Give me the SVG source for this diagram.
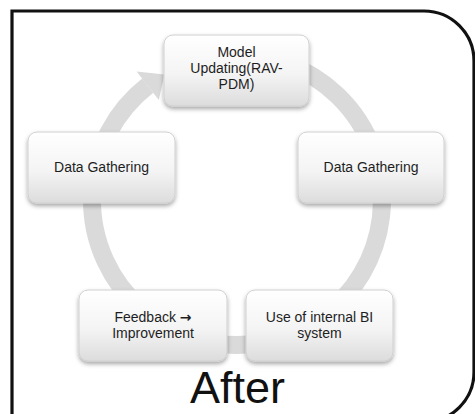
<svg xmlns="http://www.w3.org/2000/svg" width="475" height="414" viewBox="0 0 475 414">
<defs>
<linearGradient id="boxg" x1="0" y1="0" x2="0" y2="1">
<stop offset="0" stop-color="#ffffff"/>
<stop offset="0.55" stop-color="#f4f4f4"/>
<stop offset="1" stop-color="#dcdcdc"/>
</linearGradient>
<filter id="sh" x="-10%" y="-10%" width="120%" height="130%">
<feDropShadow dx="0" dy="2.5" stdDeviation="2" flood-color="#000" flood-opacity="0.35"/>
</filter>
<style>
.box{fill:url(#boxg);stroke:#d0d0d0;stroke-width:1;filter:url(#sh)}
.t{font-family:"Liberation Sans",Arial,sans-serif;font-size:14px;fill:#1e1e1e;text-anchor:middle}
.ring{fill:none;stroke:#dadada;stroke-width:18}
</style>
</defs>
<rect width="475" height="414" fill="#ffffff"/>
<path d="M12,422 L12,11 L424,11 A50,50 0 0 1 474,61 L474,372 A50,50 0 0 1 424,422" fill="none" stroke="#111" stroke-width="3.2"/>
<g id="connectors">
<path class="ring" d="M286.6,63.7 A145,145 0 1 1 147.7,85.7"/>
<polygon points="136.6,71.6 164.5,74.4 158.8,99.9" fill="#dadada"/>
</g>
<g id="n1">
<rect class="box" x="164" y="35" width="145" height="71" rx="9"/>
<text class="t" x="236.5" y="57">Model</text>
<text class="t" x="236.5" y="73">Updating(RAV-</text>
<text class="t" x="236.5" y="89">PDM)</text>
</g>
<g id="n2">
<rect class="box" x="298" y="132" width="146" height="71" rx="9"/>
<text class="t" x="371" y="172">Data Gathering</text>
</g>
<g id="n3">
<rect class="box" x="246" y="290" width="147" height="71" rx="9"/>
<text class="t" x="319.5" y="322">Use of internal BI</text>
<text class="t" x="319.5" y="338">system</text>
</g>
<g id="n4">
<rect class="box" x="79" y="290" width="148" height="71" rx="9"/>
<text class="t" x="153" y="322">Feedback <tspan font-family="DejaVu Sans,sans-serif" font-weight="bold">→</tspan></text>
<text class="t" x="153" y="338">Improvement</text>
</g>
<g id="n5">
<rect class="box" x="28" y="132" width="147" height="71" rx="9"/>
<text class="t" x="101.5" y="172">Data Gathering</text>
</g>
<text x="237.5" y="403" font-family="Liberation Sans,Arial,sans-serif" font-size="45" fill="#111" text-anchor="middle">After</text>
</svg>
